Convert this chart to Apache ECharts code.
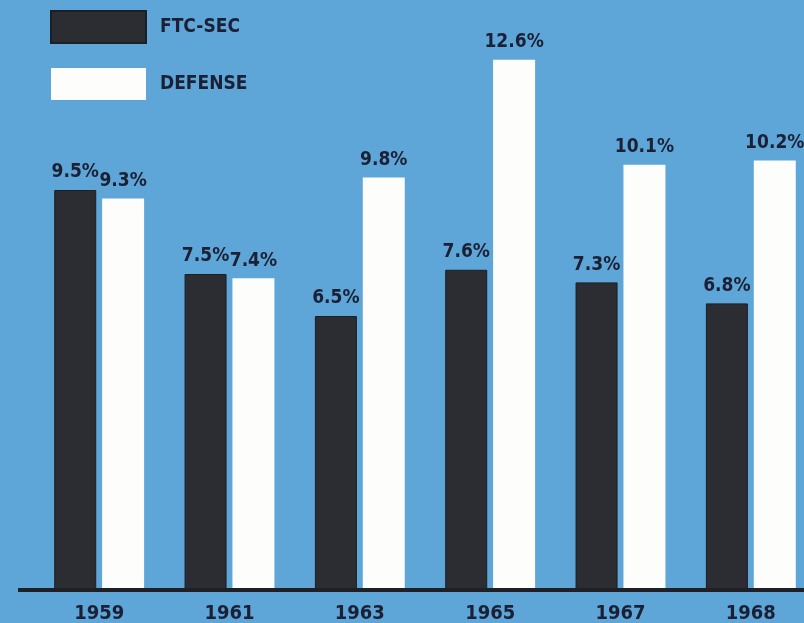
<!DOCTYPE html>
<html><head><meta charset="utf-8">
<script src="https://cdn.jsdelivr.net/npm/echarts@6/dist/echarts.min.js"></script>
<style>html,body{margin:0;padding:0;background:#5ea5d8;}#c{width:804px;height:623px;}</style>
</head><body><div id="c"></div>
<script>
const years = ['1959','1961','1963','1965','1967','1968'];
const ftcSec = [9.5, 7.5, 6.5, 7.6, 7.3, 6.8];
const defense = [9.3, 7.4, 9.8, 12.6, 10.1, 10.2];
const FONT = "'DejaVu Sans Condensed','Liberation Sans Narrow',sans-serif";
const TXT = '#1b2034';
const chart = echarts.init(document.getElementById('c'));
const lbl = {show:true, position:'top', distance:8, formatter: p => p.value.toFixed(1)+'%',
  color:TXT, fontFamily:FONT, fontWeight:'bold', fontSize:19};
chart.setOption({
  backgroundColor:'#5ea5d8',
  animation:false,
  legend:{orient:'vertical', left:50, top:10, padding:0, itemWidth:95, itemHeight:32, itemGap:24, icon:'rect',
    textStyle:{color:TXT, fontFamily:FONT, fontWeight:'bold', fontSize:19, padding:[0,0,0,9]},
    data:['FTC-SEC','DEFENSE']},
  grid:{left:34, width:782, top:43, height:546, outerBoundsMode:'none', containLabel:false},
  xAxis:{type:'category', data:years, axisTick:{show:false},
    axisLine:{show:false},
    axisLabel:{color:TXT, fontFamily:FONT, fontWeight:'bold', fontSize:20, margin:15}},
  yAxis:{type:'value', min:0, max:13, show:false, splitLine:{show:false}},
  series:[
    {name:'FTC-SEC', type:'bar', data:ftcSec, barWidth:42, barGap:'14%',
     itemStyle:{color:'#2b2d33', borderColor:'#1d1f24', borderWidth:1}, label:lbl},
    {name:'DEFENSE', type:'bar', data:defense, barWidth:42,
     itemStyle:{color:'#fdfdfb'}, label:lbl}
  ]
});
const yb = chart.convertToPixel({yAxisIndex:0}, 0);
chart.setOption({graphic:[{type:'rect', shape:{x:18, y:yb-1, width:786, height:4}, style:{fill:'#1e2026'}, z:10}]});
</script></body></html>
